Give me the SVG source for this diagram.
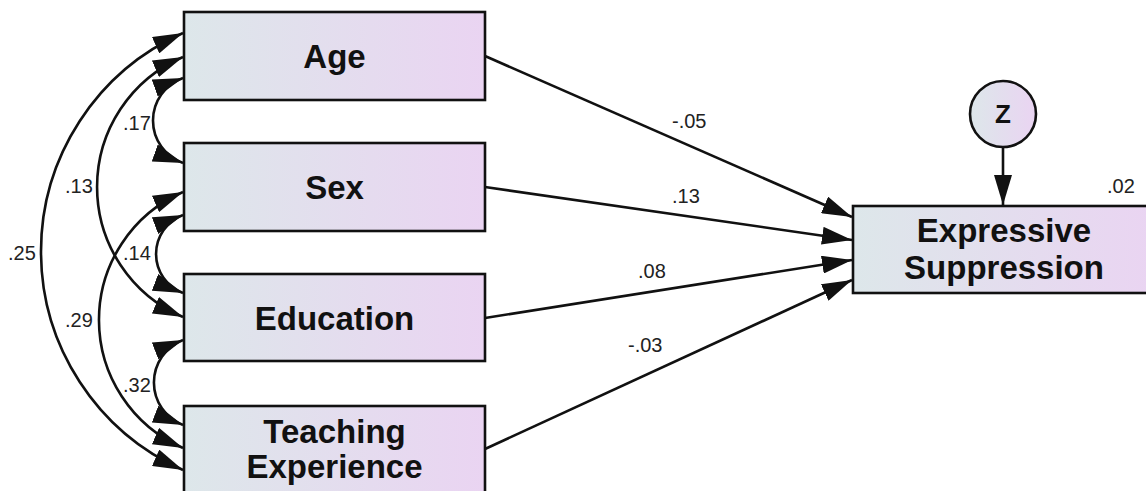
<svg xmlns="http://www.w3.org/2000/svg" width="1146" height="491" viewBox="0 0 1146 491">
<style>
.box{stroke:#111;stroke-width:2.6;fill:url(#g)}
.lbl{font-family:"Liberation Sans",Arial,sans-serif;font-weight:bold;font-size:33px;fill:#111;text-anchor:middle}
.num{font-family:"Liberation Sans",Arial,sans-serif;font-size:20px;fill:#222}
.ln{fill:none;stroke:#111;stroke-width:2.6}
.one{marker-end:url(#ah)}
.two{marker-start:url(#ah);marker-end:url(#ah)}
</style>
<defs>
<linearGradient id="g" x1="0" y1="0" x2="1" y2="0">
<stop offset="0" stop-color="#dde7ea"/>
<stop offset="1" stop-color="#ead4f2"/>
</linearGradient>
<marker id="ah" markerUnits="userSpaceOnUse" markerWidth="30" markerHeight="18" viewBox="0 0 30 18" refX="30" refY="9" orient="auto-start-reverse">
<path d="M0,0 L30,9 L0,18 z" fill="#111"/>
</marker>
</defs>
<rect width="1146" height="491" fill="#fff"/>
<g id="connectors">
<path class="ln one" d="M485,56 L852,217"/>
<path class="ln one" d="M485,187 L852,240"/>
<path class="ln one" d="M485,318 L852,260"/>
<path class="ln one" d="M485,449 L852,280"/>
<path class="ln one" d="M1003,147 L1003,205"/>
<path class="ln two" d="M183,78 A45.1,45.1 0 0 0 183,163"/>
<path class="ln two" d="M183,57 A141.3,141.3 0 0 0 183,317"/>
<path class="ln two" d="M183,33 A239.1,239.1 0 0 0 183,470"/>
<path class="ln two" d="M183,215 A41.7,41.7 0 0 0 183,293"/>
<path class="ln two" d="M183,192 A139.5,139.5 0 0 0 183,448"/>
<path class="ln two" d="M183,340 A45.6,45.6 0 0 0 183,425"/>
<text class="num" x="672" y="128">-.05</text>
<text class="num" x="672" y="203">.13</text>
<text class="num" x="638" y="278">.08</text>
<text class="num" x="628" y="352">-.03</text>
<text class="num" x="123" y="130">.17</text>
<text class="num" x="65" y="193">.13</text>
<text class="num" x="8" y="260">.25</text>
<text class="num" x="123" y="260">.14</text>
<text class="num" x="65" y="327">.29</text>
<text class="num" x="123" y="392">.32</text>
</g>
<g id="age">
<rect class="box" x="184" y="12" width="301" height="88"/>
<text class="lbl" x="334.5" y="68">Age</text>
</g>
<g id="sex">
<rect class="box" x="184" y="143" width="301" height="88"/>
<text class="lbl" x="334.5" y="199">Sex</text>
</g>
<g id="education">
<rect class="box" x="184" y="274" width="301" height="87"/>
<text class="lbl" x="334.5" y="330">Education</text>
</g>
<g id="teaching">
<rect class="box" x="184" y="406" width="301" height="88"/>
<text class="lbl" x="334.5" y="443">Teaching</text>
<text class="lbl" x="334.5" y="478">Experience</text>
</g>
<g id="expressive">
<rect class="box" x="853" y="206" width="302" height="87"/>
<text class="lbl" x="1004" y="242">Expressive</text>
<text class="lbl" x="1004" y="279">Suppression</text>
<text class="num" x="1107" y="193">.02</text>
</g>
<g id="z">
<circle cx="1003" cy="114" r="33" fill="url(#g)" stroke="#111" stroke-width="2.6"/>
<text class="lbl" x="1003" y="123" style="font-size:26px">Z</text>
</g>
</svg>
